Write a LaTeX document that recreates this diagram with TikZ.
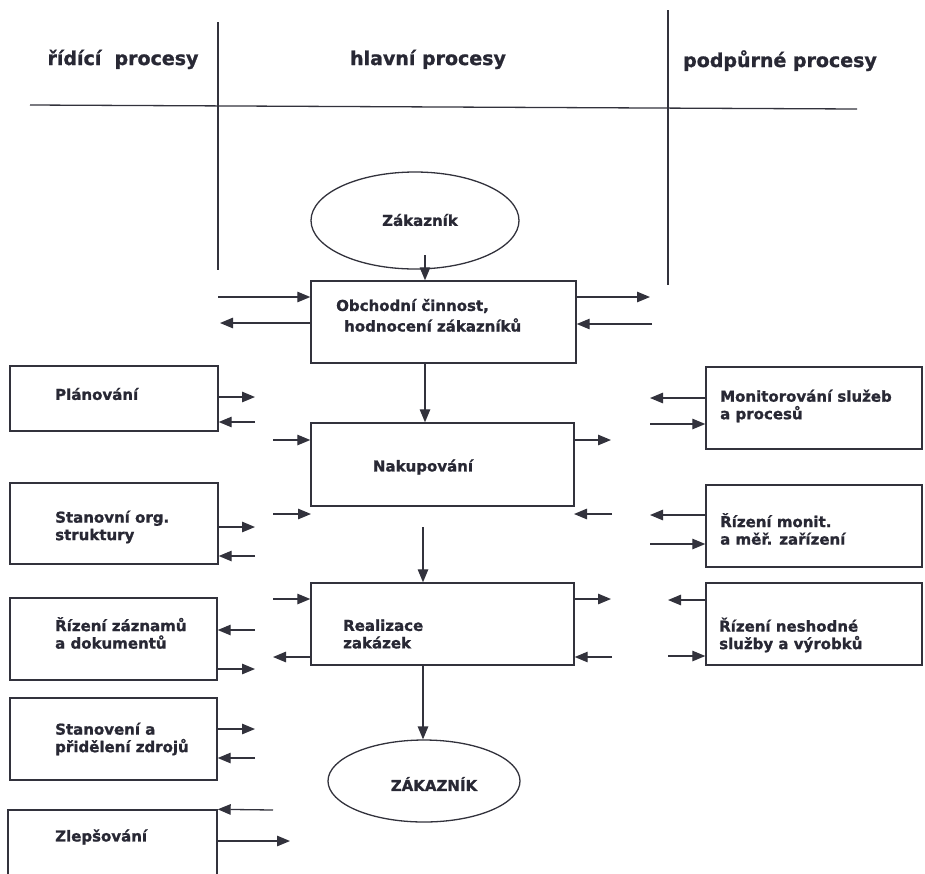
\documentclass[tikz,border=0pt]{standalone}
\usepackage{fontspec}
\setmainfont{DejaVu Sans}[BoldFeatures={FakeBold=1.2}]
\usetikzlibrary{arrows.meta,shapes.geometric}
\definecolor{ink}{RGB}{40,40,52}
\definecolor{linec}{RGB}{50,50,60}
\tikzset{
  box/.style={draw=linec, line width=1.4pt, rectangle, inner sep=0pt, anchor=center},
  oval/.style={draw=linec, line width=1.3pt, ellipse, inner sep=0pt, anchor=center},
  txt/.style={text=ink, font=\fontsize{15}{17.5}\selectfont\bfseries, inner sep=0pt, align=left, anchor=west},
  head/.style={text=ink, font=\fontsize{19}{22}\selectfont\bfseries, inner sep=0pt, anchor=base},
  arr/.style={draw=linec, line width=1.3pt, -{Triangle[length=13pt,width=10.5pt]}},
  sep/.style={draw=linec, line width=1.3pt},
}
\begin{document}
\begin{tikzpicture}[x=1pt,y=-1pt]
\useasboundingbox (0,0) rectangle (925,873);
% headers
\node[head] (h1) at (123,65) {řídící\ \ procesy};
\node[head] (h2) at (428,65) {hlavní procesy};
\node[head] (h3) at (780,67) {podpůrné procesy};
\coordinate (v1t) at (218,22); \coordinate (v1b) at (218,270);
\coordinate (v2t) at (668,10); \coordinate (v2b) at (668,285);
\coordinate (hl) at (30,105); \coordinate (hr) at (857,109);
\draw[sep] (v1t) -- (v1b);
\draw[sep] (v2t) -- (v2b);
\draw[sep] (hl) -- (hr);
% main column
\node[oval, minimum width=208pt, minimum height=97pt] (zak) at (415,220.5) {};
\node[txt, anchor=center] (zakt) at (420,220) {Zákazník};
\node[box, minimum width=265pt, minimum height=82pt] (obch) at (443.5,322) {};
\node[txt] (obcht1) at (336,306) {Obchodní činnost,};
\node[txt] (obcht2) at (344,325) {hodnocení zákazníků};
\node[box, minimum width=263pt, minimum height=83pt] (nak) at (442.5,464.5) {};
\node[txt, anchor=center] (nakt) at (423,467) {Nakupování};
\node[box, minimum width=263pt, minimum height=82pt] (real) at (442.5,624) {};
\node[txt] (realt) at (343,634) {Realizace\\zakázek};
\node[oval, minimum width=192pt, minimum height=82pt] (zak2) at (424,781) {};
\node[txt, anchor=center] (zak2t) at (434,784) {ZÁKAZNÍK};
% left column
\node[box, minimum width=208pt, minimum height=65pt] (plan) at (114,398.5) {};
\node[txt] (plant) at (55,394) {Plánování};
\node[box, minimum width=208pt, minimum height=81pt] (stan) at (114,523.5) {};
\node[txt] (stant) at (55,527) {Stanovní org.\\struktury};
\node[box, minimum width=207pt, minimum height=82pt] (rizz) at (113.5,639) {};
\node[txt] (rizzt) at (55,633) {Řízení záznamů\\a dokumentů};
\node[box, minimum width=207pt, minimum height=82pt] (zdroj) at (113.5,739) {};
\node[txt] (zdrojt) at (55,739) {Stanovení a\\přidělení zdrojů};
\node[box, minimum width=209pt, minimum height=90pt] (zlep) at (112.5,855) {};
\node[txt] (zlept) at (55,837) {Zlepšování};
% right column
\node[box, minimum width=216pt, minimum height=82pt] (mon) at (814,408) {};
\node[txt] (mont) at (720,406) {Monitorování služeb\\a procesů};
\node[box, minimum width=216pt, minimum height=82pt] (rmon) at (814,526) {};
\node[txt] (rmont) at (720,529) {Řízení monit.\\a měř. zařízení};
\node[box, minimum width=216pt, minimum height=82pt] (rnes) at (814,624) {};
\node[txt] (rnest) at (719,635) {Řízení neshodné\\služby a výrobků};
% vertical flow
\draw[arr] (425,255) -- (obch.north -| 425,0);
\draw[arr] (obch.south -| 425,0) -- (nak.north -| 425,0);
\coordinate (n2r) at (423,527);
\draw[arr] (n2r) -- (real.north -| 423,0);
\draw[arr] (real.south -| 423,0) -- (zak2.north -| 423,0);
% obchodni side arrows
\draw[arr] (218,297) -- (obch.west |- 0,297);
\draw[arr] (obch.west |- 0,323) -- (220,323);
\draw[arr] (obch.east |- 0,297) -- (650,297);
\draw[arr] (652,324) -- (obch.east |- 0,324);
% nakupovani
\draw[arr] (273,440) -- (nak.west |- 0,440);
\draw[arr] (nak.east |- 0,440) -- (611,440);
\draw[arr] (273,514) -- (311,514);
\draw[arr] (612,514) -- (574,514);
% realizace
\draw[arr] (273,599) -- (real.west |- 0,599);
\draw[arr] (real.west |- 0,657) -- (273,657);
\draw[arr] (real.east |- 0,599) -- (611,599);
\draw[arr] (612,657) -- (real.east |- 0,657);
% left boxes
\draw[arr] (plan.east |- 0,397) -- (255,397);
\draw[arr] (255,422) -- (plan.east |- 0,422);
\draw[arr] (stan.east |- 0,527) -- (255,527);
\draw[arr] (255,556) -- (stan.east |- 0,556);
\draw[arr] (255,630) -- (rizz.east |- 0,630);
\draw[arr] (rizz.east |- 0,669) -- (255,669);
\draw[arr] (zdroj.east |- 0,729) -- (255,729);
\draw[arr] (255,758) -- (zdroj.east |- 0,758);
\draw[arr] (273,810) -- (zlep.north east);
\draw[arr] (zlep.east |- 0,841) -- (290,841);
% right boxes
\draw[arr] (mon.west |- 0,398) -- (650,398);
\draw[arr] (650,424) -- (mon.west |- 0,424);
\draw[arr] (rmon.west |- 0,515) -- (650,515);
\draw[arr] (650,544) -- (rmon.west |- 0,544);
\draw[arr] (rnes.west |- 0,600) -- (668,600);
\draw[arr] (668,656) -- (rnes.west |- 0,656);
\end{tikzpicture}
\end{document}
